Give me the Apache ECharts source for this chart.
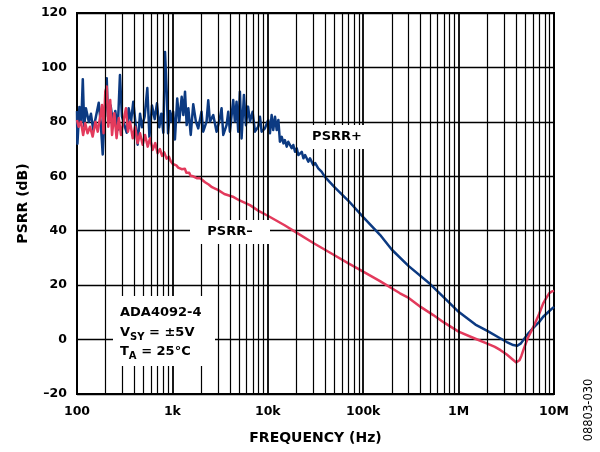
<!DOCTYPE html>
<html>
<head>
<meta charset="utf-8">
<script src="https://cdn.jsdelivr.net/npm/echarts@6/dist/echarts.min.js"></script>
<style>
html,body{margin:0;padding:0;background:#fff;}
#chart{width:600px;height:452px;}
</style>
</head>
<body>
<div id="chart"></div>
<script>
// ---- Data ----
const xTickValues = [100, 1000, 10000, 100000, 1000000, 10000000];
const xTickLabels = ['100', '1k', '10k', '100k', '1M', '10M'];

const psrrPlusFreq = [
  100,101,106,111,115,119,124,133,140,148,158,169,177,186,193,201,205,211,225,240,252,267,282,296,313,332,348,368,389,409,
  432,458,480,512,546,574,611,653,689,729,765,804,837,872,900,944,
  983,1020,1063,1123,1180,1251,1302,1356,1412,1470,1557,1654,1763,1864,2020,2103,2280,2375,2474,2680,2905,3148,3277,
  3412,3696,3849,4007,4340,4520,4705,4900,5100,5310,5620,5900,6210,6500,6930,7330,
  7930,8270,8620,9330,10100,10530,10970,11400,11900,12400,12900,13400,14000,14600,15100,15800,16400,17800,18500,
  19300,20100,20900,22700,23600,24600,26600,27700,30000,31300,33800,36600,39700,
  50000,70000,100000,150000,200000,300000,500000,700000,
  1000000,1500000,2000000,2750000,3200000,3740000,4120000,4500000,4770000,5300000,6000000,7000000,7700000,9000000,10000000
];
const psrrPlusDb = [
  84,72,85.5,80,95.7,78.4,85,80,83,77,82,87,80,68,80,90,96,82,86,79,84,77,97.2,82,79,76,85,80,87.4,80,
  71.6,83,78,82,92.4,74.5,86,81,86.8,78,83,76,105.7,91,75.8,84,
  80.1,83.7,73.5,88.6,80.1,89.2,82.5,91.1,78.8,85,75.2,86.5,80.1,77.6,83.7,76.4,80.1,87.9,80.1,82.5,76.4,81.3,85,
  75.2,78.8,83.7,76.4,88,80.1,87.4,76.4,91.1,73.9,89.9,78.8,85.6,80.1,83.7,76.4,
  78.2,81.9,76.4,77.6,80.7,75.8,82.5,77,81.9,77,80.7,72.7,74.5,72.1,73.3,70.9,72.7,70.3,71.5,
  69,70.3,67.8,69,66.6,67.8,65.4,66.6,64.1,64.9,62.9,61.7,59.8,
  56,51,45,38.5,33,27,20.5,15.5,
  10.2,5.5,3.2,0.4,-0.9,-2,-2.3,-1.4,-0.2,2,4.1,6.5,8.4,10.6,12
];

const psrrMinusFreq = [
  100,104,110,116,122,129,137,146,156,165,174,183,190,198,205,213,223,233,246,260,274,289,306,326,342,360,384,406,
  432,458,488,517,551,583,621,661,700,740,780,820,870,920,960,
  1010,1050,1100,1150,1200,1250,1300,1350,1400,1450,1500,1550,1600,1650,1700,1800,1900,
  2000,2200,2400,2600,2800,3000,3500,4300,5000,6500,8000,10000,15000,20000,30000,50000,70000,
  100000,150000,243000,300000,400000,543000,700000,
  1000000,1500000,1970000,2400000,2750000,3200000,3740000,4000000,4150000,4350000,4550000,4770000,
  5300000,5980000,7000000,7700000,8400000,8900000,9500000,10000000
];
const psrrMinusDb = [
  80.7,78.2,80,75.2,79.5,75.8,78.2,74.6,80,76.4,81.4,86.2,75.8,91.1,93,78.2,88,75.2,83.2,74,81.4,75.2,80,85,76.4,80,74,78.2,
  72.2,75.8,71.6,75.2,70.9,74,69.7,72.2,68.5,70,67.5,68.8,66.5,67.2,65.5,
  64.5,64.8,64,63.2,63,62.6,62,62.8,61.3,61,61.3,60.2,60.5,60,59.6,59.3,59.4,
  59,57.8,57,56,55.5,55,53.5,52.5,51.2,49.4,47.3,45.5,42,39.3,35.5,31,28,
  25,21.5,17,15.3,12,9,6.3,
  2.9,0.3,-1.4,-2.7,-3.9,-5.5,-7.5,-8.4,-8.7,-7.6,-6,-3.9,
  0.5,4.1,9.5,13.3,15.6,17,17.7,17.9
];

const yMin = -20, yMax = 120, yStep = 20;

// ---- Build ----
function pairs(fx, vy) { return fx.map((f, i) => [f, vy[i]]); }

const gridFreqs = [];
for (let d = 100; d < 1e7; d *= 10) {
  for (let k = 2; k <= 9; k++) gridFreqs.push(d * k);
}
const decadeFreqs = [1000, 10000, 100000, 1000000];

const BLUE = '#0c3a82';
const RED = '#e33a5c';
const FONT = '"DejaVu Sans", Verdana, sans-serif';

const chart = echarts.init(document.getElementById('chart'), null, { renderer: 'canvas' });

const markData = gridFreqs.map(f => ({ xAxis: f, lineStyle: { color: '#000', type: 'solid', width: 1.2 } }))
  .concat(decadeFreqs.map(f => ({ xAxis: f, lineStyle: { color: '#000', type: 'solid', width: 1.8 } })));

const option = {
  animation: false,
  backgroundColor: '#fff',
  grid: { left: 77, right: 46, top: 13, bottom: 58, show: true, borderColor: '#000', borderWidth: 2, backgroundColor: 'transparent' },
  xAxis: {
    type: 'log', logBase: 10, min: 100, max: 1e7,
    splitLine: { show: false },
    axisLine: { show: false }, axisTick: { show: false },
    axisLabel: {
      margin: 11, color: '#000', fontFamily: FONT, fontWeight: 'bold', fontSize: 12.5,
      formatter: function (v) {
        for (let i = 0; i < xTickValues.length; i++) {
          if (Math.abs(Math.log10(v) - Math.log10(xTickValues[i])) < 1e-6) return xTickLabels[i];
        }
        return '';
      }
    },
    name: 'FREQUENCY (Hz)', nameLocation: 'middle', nameGap: 37,
    nameTextStyle: { color: '#000', fontFamily: FONT, fontWeight: 'bold', fontSize: 14 }
  },
  yAxis: {
    type: 'value', min: yMin, max: yMax, interval: yStep,
    splitLine: { show: true, lineStyle: { color: '#000', width: 1.3 } },
    axisLine: { show: false }, axisTick: { show: false },
    axisLabel: {
      margin: 10, color: '#000', fontFamily: FONT, fontWeight: 'bold', fontSize: 12.5,
      formatter: function (v) { return v < 0 ? '\u2013' + Math.abs(v) : String(v); }
    },
    name: 'PSRR (dB)', nameLocation: 'middle', nameGap: 44, nameRotate: 90,
    nameTextStyle: { color: '#000', fontFamily: FONT, fontWeight: 'bold', fontSize: 14 }
  },
  series: [
    {
      type: 'line', data: [], z: 1, silent: true,
      markLine: {
        silent: true, symbol: ['none', 'none'], label: { show: false }, animation: false,
        lineStyle: { color: '#000', width: 1.2, type: 'solid' },
        emphasis: { disabled: true },
        data: markData
      }
    },
    {
      name: 'PSRR+', type: 'line', data: pairs(psrrPlusFreq, psrrPlusDb), z: 3,
      showSymbol: false, symbol: 'none', smooth: false,
      lineStyle: { color: BLUE, width: 2.5, join: 'round' }
    },
    {
      name: 'PSRR-', type: 'line', data: pairs(psrrMinusFreq, psrrMinusDb), z: 4,
      showSymbol: false, symbol: 'none', smooth: false,
      lineStyle: { color: RED, width: 2.5, join: 'round' }
    }
  ],
  graphic: [
    { type: 'rect', z: 10, shape: { x: 305, y: 125, width: 65, height: 24 }, style: { fill: '#fff' } },
    { type: 'text', z: 11, x: 337, y: 137, style: { text: 'PSRR+', fill: '#000', font: 'bold 13px ' + FONT, textAlign: 'center', textVerticalAlign: 'middle' } },
    { type: 'rect', z: 10, shape: { x: 190, y: 220, width: 80, height: 24 }, style: { fill: '#fff' } },
    { type: 'text', z: 11, x: 230, y: 232, style: { text: 'PSRR\u2013', fill: '#000', font: 'bold 13px ' + FONT, textAlign: 'center', textVerticalAlign: 'middle' } },
    { type: 'rect', z: 10, shape: { x: 113, y: 296, width: 102, height: 70 }, style: { fill: '#fff' } },
    { type: 'text', z: 11, x: 120, y: 313, style: { text: 'ADA4092-4', fill: '#000', font: 'bold 13px ' + FONT, textVerticalAlign: 'middle' } },
    { type: 'text', z: 11, x: 120, y: 326, style: {
        text: '{n|V}{s|SY}{n| = \u00b15V}', textVerticalAlign: 'top',
        rich: {
          n: { fontFamily: FONT, fontWeight: 'bold', fontSize: 13, fill: '#000', color: '#000', verticalAlign: 'top', lineHeight: 16 },
          s: { fontFamily: FONT, fontWeight: 'bold', fontSize: 10, fill: '#000', color: '#000', verticalAlign: 'bottom', lineHeight: 16, padding: [6, 0, 0, 0] }
        }
      } },
    { type: 'text', z: 11, x: 120, y: 345, style: {
        text: '{n|T}{s|A}{n| = 25\u00b0C}', textVerticalAlign: 'top',
        rich: {
          n: { fontFamily: FONT, fontWeight: 'bold', fontSize: 13, fill: '#000', color: '#000', verticalAlign: 'top', lineHeight: 16 },
          s: { fontFamily: FONT, fontWeight: 'bold', fontSize: 10, fill: '#000', color: '#000', verticalAlign: 'bottom', lineHeight: 16, padding: [6, 0, 0, 0] }
        }
      } },
    { type: 'text', z: 11, x: 589, y: 410, rotation: Math.PI / 2, style: { text: '08803-030', fill: '#000', font: '11.5px ' + FONT, textAlign: 'center', textVerticalAlign: 'middle' } }
  ]
};
chart.setOption(option);
</script>
</body>
</html>
